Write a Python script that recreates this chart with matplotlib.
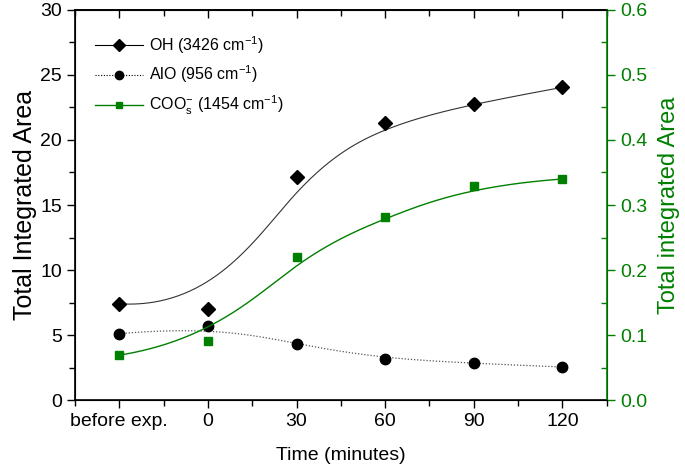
import numpy as np
import matplotlib
matplotlib.use("Agg")
import matplotlib.pyplot as plt
from matplotlib.ticker import MultipleLocator

plt.rcParams["font.family"] = ["Liberation Sans", "DejaVu Sans"]
plt.rcParams["mathtext.fontset"] = "custom"
plt.rcParams["mathtext.rm"] = "Liberation Sans"
plt.rcParams["mathtext.it"] = "Liberation Sans"

# ---- data ----
TIME = [-30, 0, 30, 60, 90, 120]          # "before exp." placed one step before 0
TICK_LABELS = ["before exp.", "0", "30", "60", "90", "120"]
OH = [7.4, 7.0, 17.15, 21.3, 22.8, 24.05]
ALO = [5.1, 5.7, 4.3, 3.13, 2.82, 2.54]
COO = [0.069, 0.091, 0.22, 0.281, 0.33, 0.34]

GREEN = "#008000"


def bspline(xs, ys, n=300, k=3):
    """Clamped cubic B-spline using the data points as control points (Origin style)."""
    P = np.column_stack([xs, ys]).astype(float)
    m = len(P)
    inner = np.linspace(0, 1, m - k + 1)[1:-1]
    t = np.concatenate([np.zeros(k + 1), inner, np.ones(k + 1)])
    u = np.linspace(0, 1, n)
    u[-1] -= 1e-10

    def basis(i, p, u):
        if p == 0:
            return ((t[i] <= u) & (u < t[i + 1])).astype(float)
        a = 0.0 if t[i + p] == t[i] else (u - t[i]) / (t[i + p] - t[i]) * basis(i, p - 1, u)
        b = 0.0 if t[i + p + 1] == t[i + 1] else (t[i + p + 1] - u) / (t[i + p + 1] - t[i + 1]) * basis(i + 1, p - 1, u)
        return a + b

    B = np.array([basis(i, k, u) for i in range(m)])
    C = B.T @ P
    return C[:, 0], C[:, 1]


fig = plt.figure(figsize=(6.85, 4.71), dpi=100)
ax = fig.add_axes([0.1095, 0.1507, 0.7762, 0.8281])
ax2 = ax.twinx()

cx, cy = bspline(TIME, OH)
ax.plot(cx, cy, color="#333333", lw=0.8)
ax.plot(TIME, OH, "D", color="black", ms=7)
cx, cy = bspline(TIME, ALO)
ax.plot(cx, cy, color="#555555", lw=0.9, ls=(0, (1, 1.5)))
ax.plot(TIME, ALO, "o", color="black", ms=7.5)
cx, cy = bspline(TIME, COO)
ax2.plot(cx, cy, color=GREEN, lw=1.0)
ax2.plot(TIME, COO, "s", color=GREEN, ms=6)

# legend proxies
h1, = ax.plot([], [], "-D", color="black", ms=6, lw=0.8)
h2, = ax.plot([], [], "o", color="black", ms=6, ls=(0, (1, 1.5)), lw=0.8)
h3, = ax.plot([], [], "-s", color=GREEN, ms=5, lw=1.0)
ax.legend([h1, h2, h3],
          ["OH (3426 cm$^{-1}$)", "AlO (956 cm$^{-1}$)", "COO$^{-}_{s}$ (1454 cm$^{-1}$)"],
          loc="upper left", bbox_to_anchor=(0.01, 0.975), frameon=False, fontsize=11.5,
          handlelength=3.0, handletextpad=0.4, labelspacing=0.5)

ax.set_xlim(-45, 135)
ax.set_ylim(0, 30)
ax2.set_ylim(0, 0.6)
ax.set_xticks(TIME)
ax.set_xticklabels(TICK_LABELS)
ax.xaxis.set_minor_locator(MultipleLocator(15))
ax.yaxis.set_major_locator(MultipleLocator(5))
ax.yaxis.set_minor_locator(MultipleLocator(2.5))
ax2.yaxis.set_major_locator(MultipleLocator(0.1))
ax2.yaxis.set_minor_locator(MultipleLocator(0.05))
ax2.yaxis.set_major_formatter(matplotlib.ticker.FormatStrFormatter("%.1f"))

ax.tick_params(which="both", direction="out", labelsize=14, width=1)
ax.tick_params(which="major", length=6)
ax.tick_params(which="minor", length=4)
ax2.tick_params(axis="y", which="major", direction="out", length=6, color=GREEN,
                labelcolor=GREEN, labelsize=14, width=1)
ax2.tick_params(axis="y", which="minor", direction="in", length=4, color=GREEN, width=1)
ax2.spines["right"].set_color(GREEN)
for s in ("left", "bottom", "top"):
    ax.spines[s].set_linewidth(1.2)
ax2.spines["right"].set_linewidth(1.2)

top = ax.secondary_xaxis("top")
top.set_xticks([-30, 0, 30, 60, 90, 120])
top.xaxis.set_minor_locator(MultipleLocator(15))
top.tick_params(which="both", direction="in", labeltop=False, width=1)
top.tick_params(which="major", length=6)
top.tick_params(which="minor", length=4)
top.spines["top"].set_linewidth(1.2)

ax.set_xlabel("Time (minutes)", fontsize=14, labelpad=12)
ax.set_ylabel("Total Integrated Area", fontsize=18, labelpad=2)
ax2.set_ylabel("Total integrated Area", fontsize=17, color=GREEN, labelpad=8)

fig.savefig("out.png", dpi=100)
